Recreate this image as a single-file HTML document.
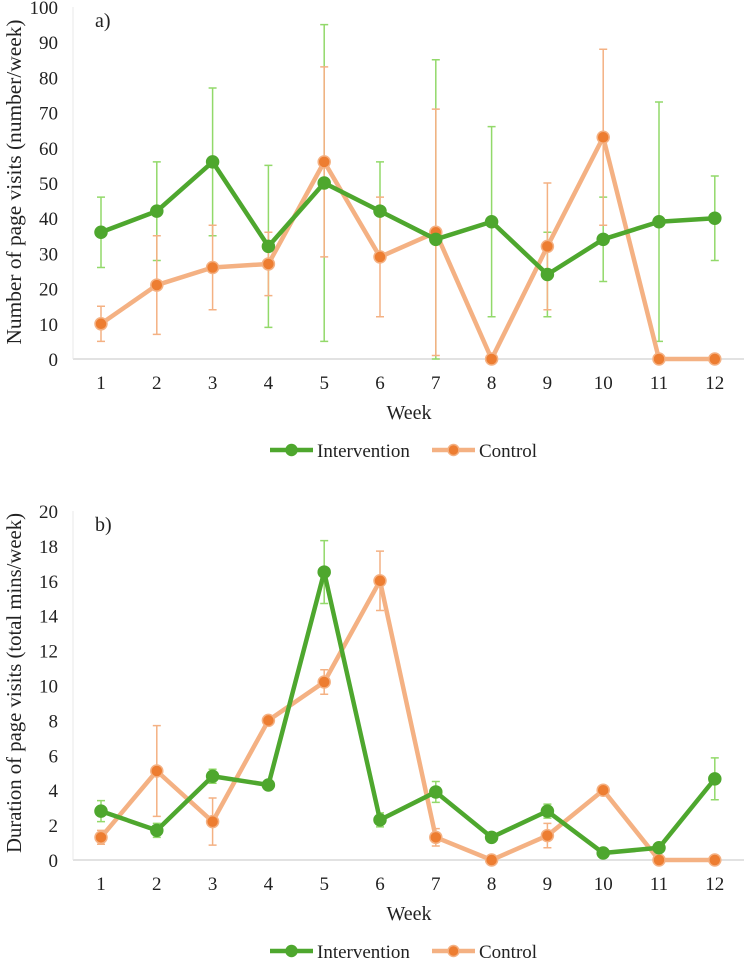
<!DOCTYPE html>
<html><head><meta charset="utf-8"><style>
body{margin:0;background:#fff;}
svg text{font-family:"Liberation Serif",serif;fill:#222;}
</style></head><body>
<svg id="s" width="744" height="961"></svg>
<script>
const weeks=[1,2,3,4,5,6,7,8,9,10,11,12];
const aTicks=[0,10,20,30,40,50,60,70,80,90,100];
const aInt=[36,42,56,32,50,42,34,39,24,34,39,40];
const aIntLo=[26,28,35,9,5,28,0,12,12,22,5,28];
const aIntHi=[46,56,77,55,95,56,85,66,36,46,73,52];
const aCon=[10,21,26,27,56,29,36,0,32,63,0,0];
const aConLo=[5,7,14,18,29,12,1,0,14,38,0,0];
const aConHi=[15,35,38,36,83,46,71,0,50,88,0,0];
const bTicks=[0,2,4,6,8,10,12,14,16,18,20];
const bInt=[2.8,1.7,4.8,4.3,16.5,2.3,3.9,1.3,2.8,0.4,0.7,4.65];
const bIntLo=[2.2,1.3,4.4,4.3,14.7,1.9,3.3,1.3,2.4,0.4,0.7,3.45];
const bIntHi=[3.4,2.1,5.2,4.3,18.3,2.7,4.5,1.3,3.2,0.4,0.7,5.85];
const bCon=[1.3,5.1,2.2,8,10.2,16,1.3,0,1.4,4,0,0];
const bConLo=[0.9,2.5,0.85,8,9.5,14.3,0.8,0,0.7,4,0,0];
const bConHi=[1.7,7.7,3.55,8,10.9,17.7,1.8,0,2.1,4,0,0];
const s=document.getElementById('s');
const NS='http://www.w3.org/2000/svg';
function mk(t,a,p){const e=document.createElementNS(NS,t);for(const k in a)e.setAttribute(k,a[k]);(p||s).appendChild(e);return e;}
function xs(i){return 101+(i-1)*55.8;}
function chart(cfg){
  const g=mk('g',{});
  
  
  const ys=v=>cfg.y0-(v-cfg.min)/(cfg.max-cfg.min)*(cfg.y0-cfg.y1);
  mk('line',{x1:73,x2:744,y1:cfg.y0,y2:cfg.y0,stroke:'#d9d9d9','stroke-width':1.5},g);
  mk('line',{x1:73,x2:73,y1:cfg.y0,y2:cfg.y1,stroke:'#e8e8e8','stroke-width':1},g);
  cfg.ticks.forEach(t=>{const e=mk('text',{x:58,y:ys(t)+7,'text-anchor':'end','font-size':19},g);e.textContent=t;
    });
  weeks.forEach(w=>{const e=mk('text',{x:xs(w),y:cfg.y0+30,'text-anchor':'middle','font-size':19},g);e.textContent=w;
    });
  const xt=mk('text',{x:409,y:cfg.y0+60,'text-anchor':'middle','font-size':20},g);xt.textContent='Week';
  
  const yt=mk('text',{x:0,y:0,'text-anchor':'middle','font-size':21,textLength:cfg.tl,lengthAdjust:'spacingAndGlyphs',transform:`translate(21,${cfg.tc}) rotate(-90)`},g);yt.textContent=cfg.ytitle;
  
  const pl=mk('text',{x:95,y:cfg.y1+20,'font-size':20},g);pl.textContent=cfg.label;
  
  const series=[
    {v:cfg.con,lo:cfg.conLo,hi:cfg.conHi,line:'#f4b183',err:'#f4b183',mk:'#ed7d31',n:'control'},
    {v:cfg.int,lo:cfg.intLo,hi:cfg.intHi,line:'#4ea72e',err:'#92d96a',mk:'#4ea72e',n:'intervention'}];
  [series[1],series[0]].forEach(sr=>{
    sr.v.forEach((v,i)=>{if(sr.hi[i]===sr.lo[i])return;const x=xs(weeks[i]);
      const e=mk('path',{d:`M${x},${ys(sr.lo[i])}V${ys(sr.hi[i])}M${x-4},${ys(sr.lo[i])}h8M${x-4},${ys(sr.hi[i])}h8`,stroke:sr.err,'stroke-width':1.5,fill:'none'},g);
      });
  });
  series.forEach(sr=>{
    const d=sr.v.map((v,i)=>(i?'L':'M')+xs(weeks[i])+','+ys(v)).join('');
    const l=mk('path',{d:d,stroke:sr.line,'stroke-width':4.5,fill:'none','stroke-linejoin':'round'},g);
    
    sr.v.forEach((v,i)=>{const c=mk('circle',{cx:xs(weeks[i]),cy:ys(v),r:6,fill:sr.mk,stroke:sr.line,'stroke-width':1.5},g);
      });
  });
  const ly=cfg.y0+91;
  [[270,'#4ea72e','#4ea72e','Intervention','legend-intervention'],[432,'#f4b183','#ed7d31','Control','legend-control']].forEach(L=>{
    const lg=mk('g',{},g);
    mk('line',{x1:L[0],x2:L[0]+43,y1:ly,y2:ly,stroke:L[1],'stroke-width':4.5},lg);
    mk('circle',{cx:L[0]+21.5,cy:ly,r:5.5,fill:L[2],stroke:L[1],'stroke-width':1.5},lg);
    const t=mk('text',{x:L[0]+47,y:ly+7,'font-size':19},lg);t.textContent=L[3];});
}
chart({name:'chart-a-page-visits',y0:359,y1:7,min:0,max:100,ticks:aTicks,ytitle:'Number of page visits (number/week)',label:'a)',tc:182,tl:325,
  int:aInt,intLo:aIntLo,intHi:aIntHi,con:aCon,conLo:aConLo,conHi:aConHi});
chart({name:'chart-b-duration',y0:860,y1:511,min:0,max:20,ticks:bTicks,ytitle:'Duration of page visits (total mins/week)',label:'b)',tc:683,tl:340,
  int:bInt,intLo:bIntLo,intHi:bIntHi,con:bCon,conLo:bConLo,conHi:bConHi});
</script>
</body></html>
